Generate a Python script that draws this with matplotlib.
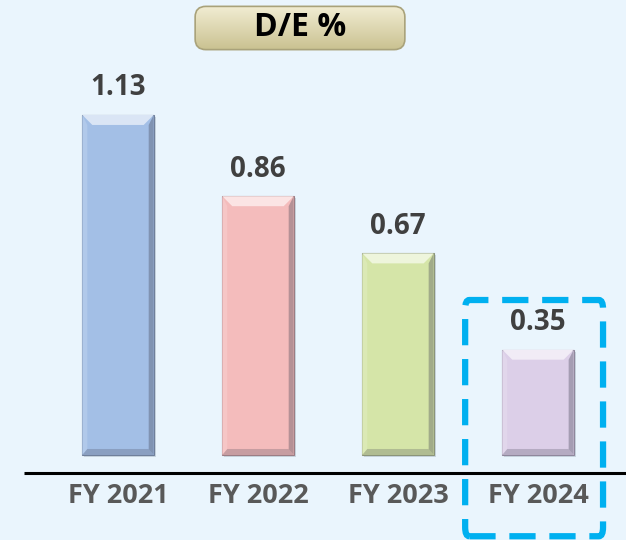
import matplotlib.pyplot as plt
import matplotlib.patches as mpatches
import matplotlib.colors as mcolors
import numpy as np

years = ["FY 2021", "FY 2022", "FY 2023", "FY 2024"]
de_ratio = [1.13, 0.86, 0.67, 0.35]
bar_colors = ["#a3bfe6", "#f4bcbc", "#d5e5a8", "#dccfe8"]

bg = "#eaf5fd"
fig = plt.figure(figsize=(6.26, 5.40), dpi=100, facecolor=bg)
ax = fig.add_axes([0, 0, 1, 1])
ax.set_facecolor(bg)
ax.set_xlim(-0.843, 3.629)
ax.set_ylim(-0.2825, 1.512)
ax.axis("off")

x = np.arange(len(years))
w = 0.51
# pixel sizes in data units
px_x = 1 / 140.0
px_y = 1 / 300.9


def blend(c, other, t):
    a = np.array(mcolors.to_rgb(c))
    b = np.array(mcolors.to_rgb(other))
    return tuple(a * (1 - t) + b * t)


for xi, v, c in zip(x, de_ratio, bar_colors):
    l, r = xi - w / 2, xi + w / 2
    # soft shadow
    ax.add_patch(mpatches.Rectangle((l + 2 * px_x, -2 * px_y), w, v, color="#c9d6e0",
                                    lw=0, zorder=1))
    ax.bar(xi, v, width=w, color=c, edgecolor=blend(c, "#303040", 0.45),
           linewidth=0.8, zorder=2)
    bx, by = 10 * px_x, 10 * px_y
    # top bevel (highlight)
    ax.add_patch(mpatches.Polygon([(l, v), (r, v), (r - bx, v - by), (l + bx, v - by)],
                                  closed=True, color=blend(c, "white", 0.6), lw=0, zorder=3))
    # left bevel
    ax.add_patch(mpatches.Polygon([(l, v), (l + bx * 0.5, v - by), (l + bx * 0.5, by * 0.5), (l, 0)],
                                  closed=True, color=blend(c, "white", 0.15), lw=0, zorder=3))
    # right bevel (shade)
    ax.add_patch(mpatches.Polygon([(r, v), (r - bx * 0.5, v - by), (r - bx * 0.5, by * 0.5), (r, 0)],
                                  closed=True, color=blend(c, "#404050", 0.35), lw=0, zorder=3))
    # bottom bevel
    ax.add_patch(mpatches.Polygon([(l, 0), (r, 0), (r - bx * 0.5, by * 0.6), (l + bx * 0.5, by * 0.6)],
                                  closed=True, color=blend(c, "#404050", 0.25), lw=0, zorder=3))
    ax.text(xi, v + 0.09, f"{v:.2f}", ha="center", va="center", fontsize=20,
            fontweight="bold", color="#404040", family="Open Sans", zorder=4)
    ax.text(xi, -0.135, years[xi], ha="center", va="center", fontsize=19.5,
            fontweight="bold", color="#595959", family="Open Sans", zorder=4)

# baseline
ax.plot([-0.671, 3.629], [-0.06, -0.06], color="black", lw=2.2, zorder=4,
        solid_capstyle="butt")

# highlight box around latest year
hl = mpatches.FancyBboxPatch((x[3] - 0.52, -0.27), 0.985, 0.785,
                             boxstyle="round,pad=0,rounding_size=0.03",
                             fill=False, edgecolor="#00b0f0", lw=4.5,
                             linestyle=(0, (4.2, 2.2)), zorder=5)
ax.add_patch(hl)

# title box with gradient and rounded corners
tax = fig.add_axes([193 / 626, 1 - 51 / 540, 214 / 626, 46 / 540])
tax.set_xlim(0, 1)
tax.set_ylim(0, 1)
tax.axis("off")
grad = np.linspace(0, 1, 64).reshape(-1, 1)
top = np.array(mcolors.to_rgb("#f2eed4"))
bot = np.array(mcolors.to_rgb("#c9c08f"))
img = top * (1 - grad[..., None]) + bot * grad[..., None]
frame = mpatches.FancyBboxPatch((0.01, 0.03), 0.98, 0.94,
                                boxstyle="round,pad=0,rounding_size=0.05",
                                mutation_aspect=4.6, transform=tax.transAxes,
                                facecolor="none", edgecolor="#a9a27a", lw=1.2, zorder=3)
tax.add_patch(frame)
im = tax.imshow(img, aspect="auto", extent=[0, 1, 0, 1], zorder=1)
im.set_clip_path(frame)
tax.text(0.5, 0.5, "D/E %", ha="center", va="center", fontsize=23,
         fontweight="bold", color="black", family="Open Sans", zorder=4)

fig.savefig("out.png", dpi=100, facecolor=bg)
